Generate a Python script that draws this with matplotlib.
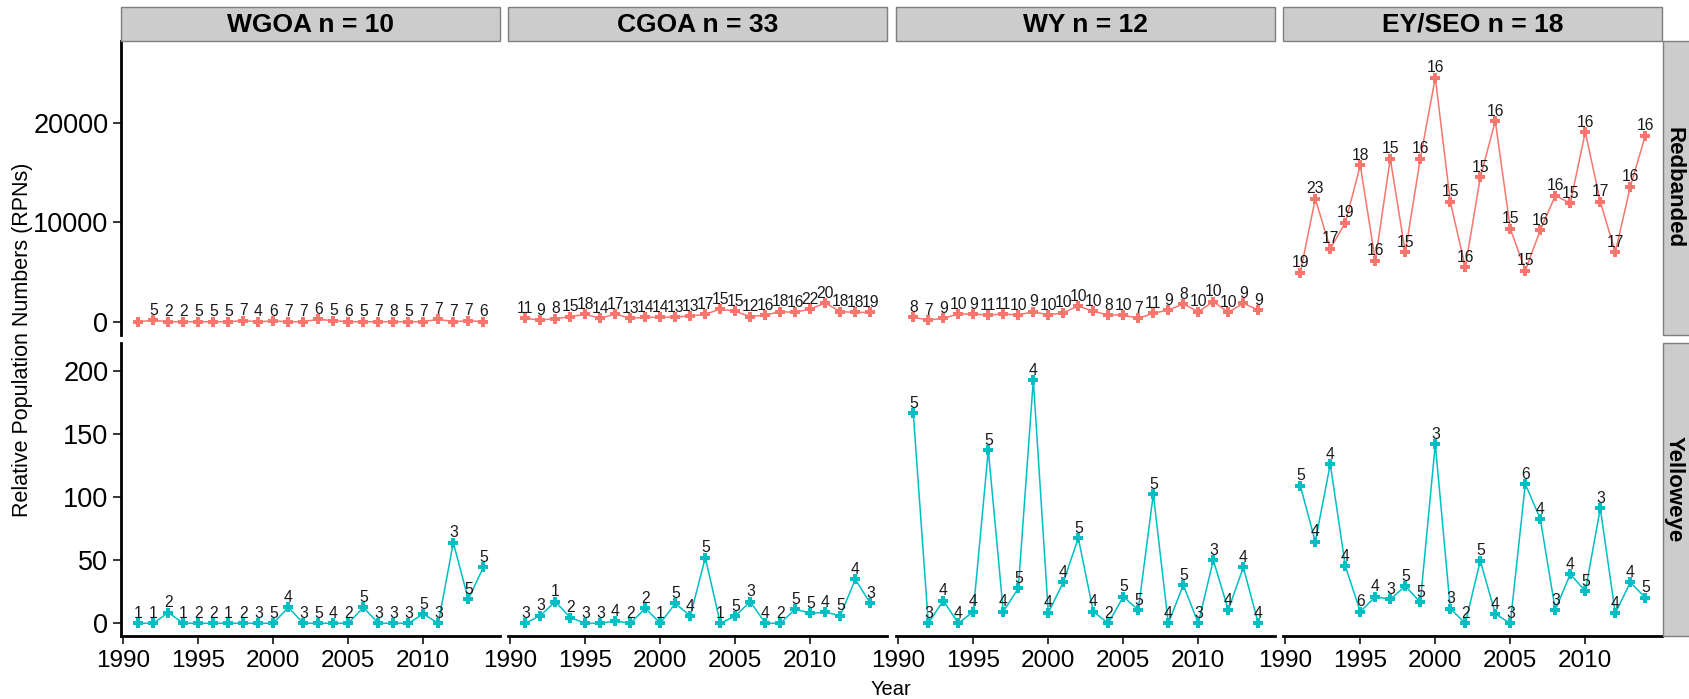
import matplotlib
matplotlib.use("Agg")
import matplotlib.pyplot as plt
from matplotlib.patches import Rectangle

plt.rcParams['font.family'] = ['Liberation Sans', 'DejaVu Sans']

years = list(range(1991, 2015))
regions = ["WGOA", "CGOA", "WY", "EY/SEO"]
region_n = [10, 33, 12, 18]
species = ["Redbanded", "Yelloweye"]

# Redbanded RPNs per region, 1991-2014
red_wgoa = [30, 170, 30, 30, 30, 30, 30, 130, 30, 100, 30, 30,
            270, 130, 30, 30, 30, 30, 30, 30, 270, 30, 130, 30]
red_cgoa = [368, 200, 334, 535, 769, 368, 802, 368, 468, 468, 502, 602,
            769, 1304, 1070, 535, 702, 1036, 970, 1304, 1906, 1036, 970, 970]
red_wy = [468, 200, 368, 802, 802, 702, 802, 702, 1036, 702, 936, 1605,
          1070, 702, 702, 368, 869, 1204, 1805, 1036, 2040, 970, 1873, 1204]
red_ey = [4948, 12370, 7355, 9963, 15714, 6152, 16382, 6988, 16382, 24507, 12069, 5483,
          14510, 20160, 9361, 5148, 9228, 12671, 11936, 19057, 12069, 6988, 13574, 18689]

# number of stations behind each Redbanded point
red_wgoa_n = ["", 5, 2, 2, 5, 5, 5, 7, 4, 6, 7, 7, 6, 5, 6, 5, 7, 8, 5, 7, 7, 7, 7, 6]
red_cgoa_n = [11, 9, 8, 15, 18, 14, 17, 13, 14, 14, 13, 13, 17, 15, 15, 12, 16, 18, 16, 22, 20, 18, 18, 19]
red_wy_n = [8, 7, 9, 10, 9, 11, 11, 10, 9, 10, 10, 10, 10, 8, 10, 7, 11, 9, 8, 10, 10, 10, 9, 9]
red_ey_n = [19, 23, 17, 19, 18, 16, 15, 15, 16, 16, 15, 16, 15, 16, 15, 15, 16, 16, 15, 16, 17, 17, 16, 16]

# Yelloweye RPNs per region, 1991-2014
yel_wgoa = [0, 0, 8.5, 0, 0, 0, 0, 0, 0, 0, 12.7, 0,
            0, 0, 0, 12.7, 0, 0, 0, 7.4, 0, 64, 19, 44.4]
yel_cgoa = [0, 6.1, 17.2, 4.5, 0, 0, 1.8, 0, 11.9, 0, 15.8, 5.8,
            52.1, 0, 5.8, 17.2, 0, 0, 11.3, 7.9, 8.7, 6.1, 34.9, 15.8]
yel_wy = [166.6, 0, 18.0, 0, 9.2, 137.5, 9.2, 27.8, 193.1, 8.4, 32.5, 67.7,
          9.2, 0, 21.1, 10.6, 102.4, 0, 30.4, 0, 50.2, 10.6, 44.4, 0]
yel_ey = [109.2, 64.8, 126.4, 45.5, 9.2, 21.1, 19.0, 29.6, 16.6, 142.3, 11.6, 0,
          49.7, 7.4, 0, 110.6, 82.8, 10.6, 39.1, 25.4, 91.2, 7.9, 32.5, 20.3]

yel_wgoa_n = [1, 1, 2, 1, 2, 2, 1, 2, 3, 5, 4, 3, 5, 4, 2, 5, 3, 3, 3, 5, 3, 3, 5, 5]
yel_cgoa_n = [3, 3, 1, 2, 3, 3, 4, 2, 2, 1, 5, 4, 5, 1, 5, 3, 4, 2, 5, 5, 4, 5, 4, 3]
yel_wy_n = [5, 3, 4, 4, 4, 5, 4, 5, 4, 4, 4, 5, 4, 2, 5, 5, 5, 4, 5, 3, 3, 4, 4, 4]
yel_ey_n = [5, 4, 4, 4, 6, 4, 3, 5, 5, 3, 3, 2, 5, 4, 3, 6, 4, 3, 4, 5, 3, 4, 4, 5]

values = [[red_wgoa, red_cgoa, red_wy, red_ey],
          [yel_wgoa, yel_cgoa, yel_wy, yel_ey]]
counts = [[red_wgoa_n, red_cgoa_n, red_wy_n, red_ey_n],
          [yel_wgoa_n, yel_cgoa_n, yel_wy_n, yel_ey_n]]
colors = ["#F8766D", "#00BFC4"]

W, H = 1690, 699
fig = plt.figure(figsize=(W / 100, H / 100), dpi=100)


def px_rect(x0, y0, x1, y1):
    return [x0 / W, 1 - y1 / H, (x1 - x0) / W, (y1 - y0) / H]


cols = [(121, 500), (508, 887), (896, 1275), (1283, 1662)]
rows = [(41, 335), (343, 636)]
ylims = [(-1304, 28185), (-10.1, 222.5)]
yticks = [[0, 10000, 20000], [0, 50, 100, 150, 200]]
xlim = (1989.847, 2015.113)

for r, (y0, y1) in enumerate(rows):
    for c, (x0, x1) in enumerate(cols):
        ax = fig.add_axes(px_rect(x0, y0, x1, y1))
        ax.plot(years, values[r][c], color=colors[r], lw=1.1,
                marker="P", markersize=7.5, markeredgewidth=0)
        for yr, v, n in zip(years, values[r][c], counts[r][c]):
            ax.annotate(str(n), (yr, v), xytext=(0, 3.8), textcoords="offset points",
                        ha="center", va="baseline", fontsize=11.3, color="#1a1a1a")
        ax.set_xlim(*xlim)
        ax.set_ylim(*ylims[r])
        for s in ax.spines.values():
            s.set_visible(False)
        ax.set_xticks([1990, 1995, 2000, 2005, 2010])
        ax.set_yticks(yticks[r])
        ax.tick_params(length=5.5, width=1.1, color="black", labelcolor="black")
        ax.tick_params(axis="y", pad=3.6, labelsize=19.5)
        ax.tick_params(axis="x", pad=4.3, labelsize=17.5)
        if c == 0:
            ax.spines["left"].set_visible(True)
            ax.spines["left"].set_linewidth(2)
        else:
            ax.tick_params(axis="y", left=False, labelleft=False)
        if r == 1:
            ax.spines["bottom"].set_visible(True)
            ax.spines["bottom"].set_linewidth(2)
        else:
            ax.tick_params(axis="x", bottom=False, labelbottom=False)

# facet strips
for c, (x0, x1) in enumerate(cols):
    fig.patches.append(Rectangle((x0 / W, 1 - 41 / H), (x1 - x0) / W, 34 / H,
                                 transform=fig.transFigure, facecolor="#CCCCCC",
                                 edgecolor="#7F7F7F", lw=1))
    fig.text((x0 + x1) / 2 / W, 1 - 24.5 / H, f"{regions[c]} n = {region_n[c]}",
             ha="center", va="center", fontsize=19, fontweight="bold")

for r, (y0, y1) in enumerate(rows):
    fig.patches.append(Rectangle((1663 / W, 1 - y1 / H), 27 / W, (y1 - y0) / H,
                                 transform=fig.transFigure, facecolor="#CCCCCC",
                                 edgecolor="#7F7F7F", lw=1))
    fig.text(1674 / W, 1 - (y0 + y1) / 2 / H, species[r], rotation=-90,
             ha="center", va="center", fontsize=16, fontweight="bold")

fig.text(23 / W, 1 - 340 / H, "Relative Population Numbers (RPNs)", rotation=90,
         ha="center", va="center", fontsize=15.5)
fig.text(891 / W, 1 - 695 / H, "Year", ha="center", va="baseline", fontsize=14.5)

fig.savefig("out.png", dpi=100)
